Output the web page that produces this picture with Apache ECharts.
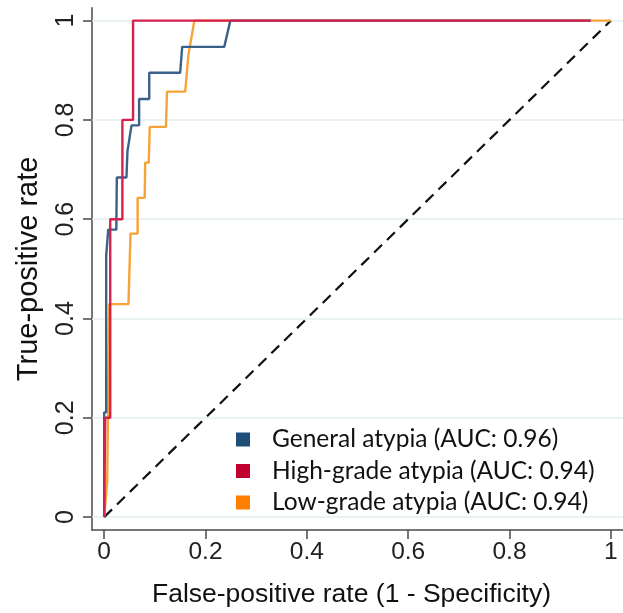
<!DOCTYPE html>
<html>
<head>
<meta charset="utf-8">
<script src="https://cdn.jsdelivr.net/npm/echarts@6/dist/echarts.min.js"></script>
<style>
html,body{margin:0;padding:0;background:#fff;}
#chart{width:623px;height:613px;}
</style>
</head>
<body>
<div id="chart"></div>
<script>
// Tick values
var xTicks = [0, 0.2, 0.4, 0.6, 0.8, 1];
var yTicks = [0, 0.2, 0.4, 0.6, 0.8, 1];

// Series names
var seriesNames = ['General atypia (AUC: 0.96)', 'High-grade atypia (AUC: 0.94)', 'Low-grade atypia (AUC: 0.94)'];

// General atypia ROC points
var generalFpr = [0, 0, 0.004, 0.004, 0.007, 0.008, 0.024, 0.025, 0.044, 0.046, 0.054, 0.069, 0.069, 0.089, 0.089, 0.150, 0.154, 0.237, 0.249, 0.96];
var generalTpr = [0, 0.211, 0.211, 0.526, 0.526, 0.579, 0.579, 0.684, 0.684, 0.737, 0.789, 0.789, 0.842, 0.842, 0.895, 0.895, 0.947, 0.947, 1, 1];

// High-grade atypia ROC points
var highFpr = [0, 0.002, 0.012, 0.012, 0.036, 0.036, 0.057, 0.057, 0.96];
var highTpr = [0, 0.2, 0.2, 0.6, 0.6, 0.8, 0.8, 1, 1];

// Low-grade atypia ROC points
var lowFpr = [0, 0.006, 0.010, 0.048, 0.052, 0.066, 0.066, 0.080, 0.081, 0.088, 0.090, 0.122, 0.124, 0.160, 0.166, 0.178, 1];
var lowTpr = [0, 0.071, 0.429, 0.429, 0.571, 0.571, 0.643, 0.643, 0.714, 0.714, 0.786, 0.786, 0.857, 0.857, 0.929, 1, 1];

// Reference diagonal
var refX = [0, 1];
var refY = [0, 1];

function pairs(xs, ys) {
  var out = [];
  for (var i = 0; i < xs.length; i++) out.push([xs[i], ys[i]]);
  return out;
}

var lineColors = ['#3a6189', '#d6214d', '#f6a33a'];
var legendColors = ['#1f4e79', '#c0002f', '#ff7f00'];

var chart = echarts.init(document.getElementById('chart'), null, {renderer: 'canvas'});

var axisFont = 'Liberation Sans, Arial, sans-serif';

chart.setOption({
  animation: false,
  backgroundColor: '#ffffff',
  grid: {left: 92, right: 0, top: 7.7, bottom: 74, containLabel: false},
  xAxis: {
    type: 'value', min: -0.024, max: 1.024,
    name: 'False-positive rate (1 - Specificity)',
    nameLocation: 'middle', nameGap: 51,
    nameTextStyle: {fontFamily: axisFont, fontSize: 26.5, color: '#111', padding: [0, 12, 0, 0]},
    axisLine: {show: true, onZero: false, lineStyle: {color: '#4a4a4a', width: 1.5}},
    axisTick: {show: true, customValues: xTicks, length: 9, lineStyle: {color: '#4a4a4a', width: 1.5}},
    axisLabel: {customValues: xTicks, margin: 10, fontFamily: axisFont, fontSize: 24.5, color: '#222'},
    splitLine: {show: false}
  },
  yAxis: {
    type: 'value', min: -0.026, max: 1.026,
    name: 'True-positive rate',
    nameLocation: 'middle', nameGap: 49,
    nameTextStyle: {fontFamily: axisFont, fontSize: 29, color: '#111'},
    axisLine: {show: true, onZero: false, lineStyle: {color: '#4a4a4a', width: 1.5}},
    axisTick: {show: true, customValues: yTicks, length: 9, lineStyle: {color: '#4a4a4a', width: 1.5}},
    axisLabel: {customValues: yTicks, rotate: 90, margin: 13, fontFamily: axisFont, fontSize: 25, color: '#222'},
    splitLine: {show: false}
  },
  legend: {
    orient: 'vertical', left: 231, top: 422,
    itemWidth: 14, itemHeight: 14, itemGap: 6.5,
    icon: 'rect',
    textStyle: {fontFamily: 'Lato, sans-serif', fontSize: 24.5, color: '#111', lineHeight: 24, padding: [0, 0, 0, 17]},
    data: seriesNames.map(function (n, i) { return {name: n, itemStyle: {color: legendColors[i]}}; })
  },
  series: [
    {
      type: 'line', name: 'reference', data: pairs(refX, refY), showSymbol: false, silent: true,
      lineStyle: {color: '#111', width: 2.2, type: [11, 7]}, z: 2,
      markLine: {
        silent: true, symbol: ['none', 'none'], label: {show: false},
        lineStyle: {color: '#e4eef0', width: 1.5, type: 'solid'},
        data: yTicks.map(function (v) { return {yAxis: v}; }),
        z: 1
      }
    },
    {type: 'line', name: seriesNames[2], data: pairs(lowFpr, lowTpr), showSymbol: false, color: lineColors[2], lineStyle: {width: 2.4}, z: 3},
    {type: 'line', name: seriesNames[0], data: pairs(generalFpr, generalTpr), showSymbol: false, color: lineColors[0], lineStyle: {width: 2.4}, z: 4},
    {type: 'line', name: seriesNames[1], data: pairs(highFpr, highTpr), showSymbol: false, color: lineColors[1], lineStyle: {width: 2.4}, z: 5}
  ]
});
</script>
</body>
</html>
